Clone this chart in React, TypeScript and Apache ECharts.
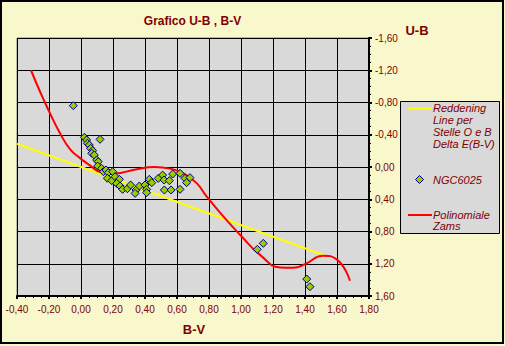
import React, { useEffect, useRef } from "react";
import * as echarts from "echarts";

// Tick values
const xTicks = [-0.4, -0.2, 0, 0.2, 0.4, 0.6, 0.8, 1.0, 1.2, 1.4, 1.6, 1.8];
const yTicks = [-1.6, -1.2, -0.8, -0.4, 0, 0.4, 0.8, 1.2, 1.6];

// Reddening line (slope 0.72)
const reddeningX = [-0.4, 1.52];
const reddeningY = [-0.288, 1.094];

// Polynomial ZAMS
const zamsX = [-0.3125, -0.255, -0.194, -0.131, -0.069, -0.006, 0.056, 0.119, 0.21, 0.34, 0.46, 0.556, 0.64, 0.723, 0.786, 0.91, 0.994, 1.119, 1.244, 1.325, 1.41, 1.51, 1.598, 1.681];
const zamsY = [-1.2, -0.93, -0.666, -0.418, -0.223, -0.11, -0.02, 0.06, 0.08, 0.03, 0.0, 0.02, 0.08, 0.2, 0.368, 0.66, 0.84, 1.09, 1.245, 1.25, 1.195, 1.1, 1.145, 1.41];

// NGC6025 stars
const ngcBV = [-0.048, 0.021, 0.035, 0.119, 0.04, 0.052, 0.06, 0.073, 0.067, 0.083, 0.098, 0.108, 0.104, 0.129, 0.14, 0.156, 0.171, 0.198, 0.165, 0.192, 0.213, 0.24, 0.223, 0.244, 0.26, 0.29, 0.31, 0.344, 0.338, 0.365, 0.4, 0.41, 0.427, 0.442, 0.41, 0.483, 0.51, 0.519, 0.552, 0.573, 0.521, 0.563, 0.619, 0.65, 0.681, 0.66, 0.619, 1.102, 1.139, 1.411, 1.431];
const ngcUB = [-0.761, -0.368, -0.335, -0.343, -0.294, -0.273, -0.232, -0.203, -0.17, -0.149, -0.087, -0.066, -0.012, 0.017, 0.058, 0.037, 0.07, 0.058, 0.14, 0.169, 0.12, 0.153, 0.203, 0.236, 0.277, 0.269, 0.223, 0.285, 0.327, 0.236, 0.223, 0.277, 0.153, 0.194, 0.318, 0.141, 0.1, 0.161, 0.169, 0.087, 0.285, 0.285, 0.277, 0.141, 0.132, 0.194, 0.079, 1.021, 0.947, 1.39, 1.485];

const FONT = '"Liberation Sans", Arial, sans-serif';
const DARK_RED = "#800000";
const fmt = (v: number) => (Math.abs(v) < 1e-9 ? 0 : v).toFixed(2).replace(".", ",");

export default function App() {
  const ref = useRef<HTMLDivElement>(null);
  useEffect(() => {
    if (!ref.current) return;
    const chart = echarts.init(ref.current, null, { renderer: "svg" });
    const zip = (a: number[], b: number[]) => a.map((v, i) => [v, b[i]]);
    chart.setOption({
      animation: false,
      backgroundColor: "#F8F8CC",
      textStyle: { fontFamily: FONT },
      grid: {
        left: 17,
        top: 38,
        right: 136,
        bottom: 50,
        show: true,
        backgroundColor: "#D9D9D9",
        borderColor: "#808080",
        borderWidth: 1,
      },
      xAxis: {
        type: "value",
        min: xTicks[0],
        max: xTicks[xTicks.length - 1],
        interval: 0.2,
        position: "bottom",
        axisLine: { onZero: false, lineStyle: { color: "#000", width: 2 } },
        axisTick: { show: true, length: 3, lineStyle: { color: "#000", width: 2 } },
        minorTick: { show: true, splitNumber: 4, length: 2, lineStyle: { color: "#000" } },
        splitLine: { show: true, lineStyle: { color: "#000", width: 1 } },
        axisLabel: { color: DARK_RED, fontSize: 10, margin: 8, fontFamily: FONT, formatter: fmt },
      },
      yAxis: {
        type: "value",
        min: yTicks[0],
        max: yTicks[yTicks.length - 1],
        interval: 0.4,
        inverse: true,
        position: "right",
        axisLine: { show: true, onZero: false, lineStyle: { color: "#000", width: 2 } },
        axisTick: { show: true, length: 3, lineStyle: { color: "#000", width: 2 } },
        minorTick: { show: true, splitNumber: 4, length: 2, lineStyle: { color: "#000" } },
        splitLine: { show: true, lineStyle: { color: "#000", width: 1 } },
        axisLabel: { color: DARK_RED, fontSize: 10, margin: 6, fontFamily: FONT, formatter: fmt },
      },
      series: [
        {
          name: "Reddening Line per Stelle O e B Delta E(B-V)",
          type: "line",
          data: zip(reddeningX, reddeningY),
          showSymbol: false,
          lineStyle: { color: "#FFFF00", width: 2 },
          z: 2,
        },
        {
          name: "Polinomiale Zams",
          type: "line",
          data: zip(zamsX, zamsY),
          smooth: true,
          showSymbol: false,
          lineStyle: { color: "#FF0000", width: 2 },
          z: 3,
        },
        {
          name: "NGC6025",
          type: "scatter",
          data: zip(ngcBV, ngcUB),
          symbol: "diamond",
          symbolSize: 8,
          itemStyle: { color: "#99CC00", borderColor: "#000080", borderWidth: 1, opacity: 1 },
          z: 4,
        },
      ],
      graphic: [
        {
          type: "rect",
          silent: true,
          shape: { x: 1, y: 1, width: 502, height: 342 },
          style: { fill: "none", stroke: "#000", lineWidth: 2 },
        },
        {
          type: "text",
          x: 192.5,
          y: 21,
          style: { text: "Grafico U-B , B-V", font: `bold 12px ${FONT}`, fill: DARK_RED, align: "center", verticalAlign: "middle" },
        },
        {
          type: "text",
          x: 417,
          y: 30,
          style: { text: "U-B", font: `bold 13px ${FONT}`, fill: DARK_RED, align: "center", verticalAlign: "middle" },
        },
        {
          type: "text",
          x: 194,
          y: 329,
          style: { text: "B-V", font: `bold 13px ${FONT}`, fill: DARK_RED, align: "center", verticalAlign: "middle" },
        },
        {
          type: "group",
          children: [
            {
              type: "rect",
              shape: { x: 400.5, y: 101.5, width: 99, height: 132 },
              style: { fill: "#D9D9D9", stroke: "#000", lineWidth: 1 },
            },
            {
              type: "line",
              shape: { x1: 408, y1: 108.5, x2: 432, y2: 108.5 },
              style: { stroke: "#FFFF00", lineWidth: 2 },
            },
            {
              type: "text",
              x: 433,
              y: 102,
              style: {
                text: "Reddening\nLine per\nStelle O e B\nDelta E(B-V)",
                font: `italic 11px ${FONT}`,
                lineHeight: 12,
                fill: DARK_RED,
                align: "left",
                verticalAlign: "top",
              },
            },
            {
              type: "polygon",
              shape: { points: [[419.5, 175.5], [423.5, 179.5], [419.5, 183.5], [415.5, 179.5]] },
              style: { fill: "#99CC00", stroke: "#000080", lineWidth: 1 },
            },
            {
              type: "text",
              x: 433,
              y: 179.5,
              style: { text: "NGC6025", font: `italic 11px ${FONT}`, fill: DARK_RED, align: "left", verticalAlign: "middle" },
            },
            {
              type: "line",
              shape: { x1: 408, y1: 215, x2: 432, y2: 215 },
              style: { stroke: "#FF0000", lineWidth: 2 },
            },
            {
              type: "text",
              x: 433,
              y: 209,
              style: {
                text: "Polinomiale\nZams",
                font: `italic 11px ${FONT}`,
                lineHeight: 11,
                fill: DARK_RED,
                align: "left",
                verticalAlign: "top",
              },
            },
          ],
        },
      ],
    });
    return () => chart.dispose();
  }, []);
  return <div ref={ref} style={{ position: "fixed", left: 0, top: 0, width: 505, height: 346 }} />;
}
